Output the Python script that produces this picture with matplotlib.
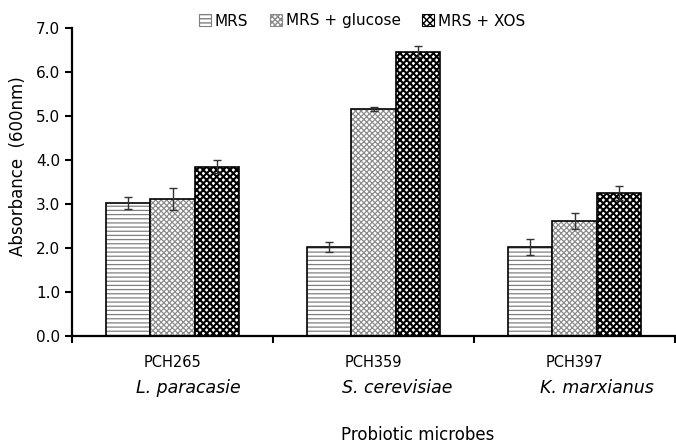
import matplotlib
matplotlib.use("Agg")
import matplotlib.pyplot as plt
from matplotlib.patches import Patch
import numpy as np

# data
strains = ["PCH265", "PCH359", "PCH397"]
species = ["L. paracasie", "S. cerevisiae", "K. marxianus"]
series = ["MRS", "MRS + glucose", "MRS + XOS"]
mrs = [3.02, 2.02, 2.03]
glucose = [3.12, 5.16, 2.61]
xos = [3.85, 6.46, 3.24]
mrs_err = [0.14, 0.12, 0.18]
glucose_err = [0.25, 0.05, 0.18]
xos_err = [0.15, 0.12, 0.16]

plt.rcParams["font.family"] = "DejaVu Sans"
plt.rcParams["hatch.linewidth"] = 1.0

fig = plt.figure(figsize=(6.76, 4.43), dpi=100)
ax = fig.add_axes([72 / 676, 107 / 443, 603 / 676, 308 / 443])

x = np.arange(len(strains))
w = 0.222
# (hatch, hatch colour, hatch linewidth)
styles = [("----", "0.5", 0.9), ("xxxxxx", "0.55", 0.9), ("xxxxx", "black", 1.5)]
values = [mrs, glucose, xos]
errs = [mrs_err, glucose_err, xos_err]


def set_hlw(patch, lw):
    if hasattr(patch, "set_hatch_linewidth"):
        patch.set_hatch_linewidth(lw)


for i, (vals, err, (hatch, hc, hlw)) in enumerate(zip(values, errs, styles)):
    pos = x + (i - 1) * w
    # hatch layer, then black outline on top
    bars = ax.bar(pos, vals, w, color="white", edgecolor=hc, hatch=hatch, linewidth=0)
    for b in bars:
        set_hlw(b, hlw)
    ax.bar(pos, vals, w, fill=False, edgecolor="black", linewidth=1.2)
    ax.errorbar(pos, vals, yerr=err, fmt="none", ecolor="#333333",
                elinewidth=1, capsize=3, capthick=1)

ax.set_xlim(-0.5, 2.5)
ax.set_ylim(0, 7)
ax.set_yticks(np.arange(0, 7.1, 1.0))
ax.set_yticklabels([f"{v:.1f}" for v in np.arange(0, 7.1, 1.0)], fontsize=11)
ax.set_xticks(x)
ax.set_xticklabels(strains, fontsize=10.5)
ax.set_xticks([-0.5, 0.5, 1.5, 2.5], minor=True)
ax.tick_params(axis="x", which="major", length=0, pad=14)
ax.tick_params(axis="x", which="minor", length=5, width=1.5, direction="out")
ax.tick_params(axis="y", length=5, width=1.5, direction="out")
for s in ["top", "right"]:
    ax.spines[s].set_visible(False)
for s in ["left", "bottom"]:
    ax.spines[s].set_linewidth(1.6)

# species names below strain ids
sp_x = [188, 397, 597]
for name, px in zip(species, sp_x):
    fig.text(px / 676, (443 - 388) / 443, name, fontsize=12.5, style="italic",
             ha="center", va="center")

fig.text(418 / 676, 8 / 443, "Probiotic microbes", fontsize=12, ha="center", va="center")
fig.text(18 / 676, (443 - 166) / 443, "Absorbance  (600nm)", fontsize=12,
         rotation=90, ha="center", va="center")

handles = []
for h, c, hlw in styles:
    p = Patch(facecolor="white", edgecolor=c, hatch=h, linewidth=0.8)
    set_hlw(p, min(hlw, 1.2))
    handles.append(p)
fig.legend(handles, series, loc="center", bbox_to_anchor=(362 / 676, 1 - 21 / 443),
           ncol=3, frameon=False, fontsize=11, handlelength=0.8, handleheight=0.8,
           handletextpad=0.25, columnspacing=1.4, borderpad=0)

fig.savefig("out.png", dpi=100)
